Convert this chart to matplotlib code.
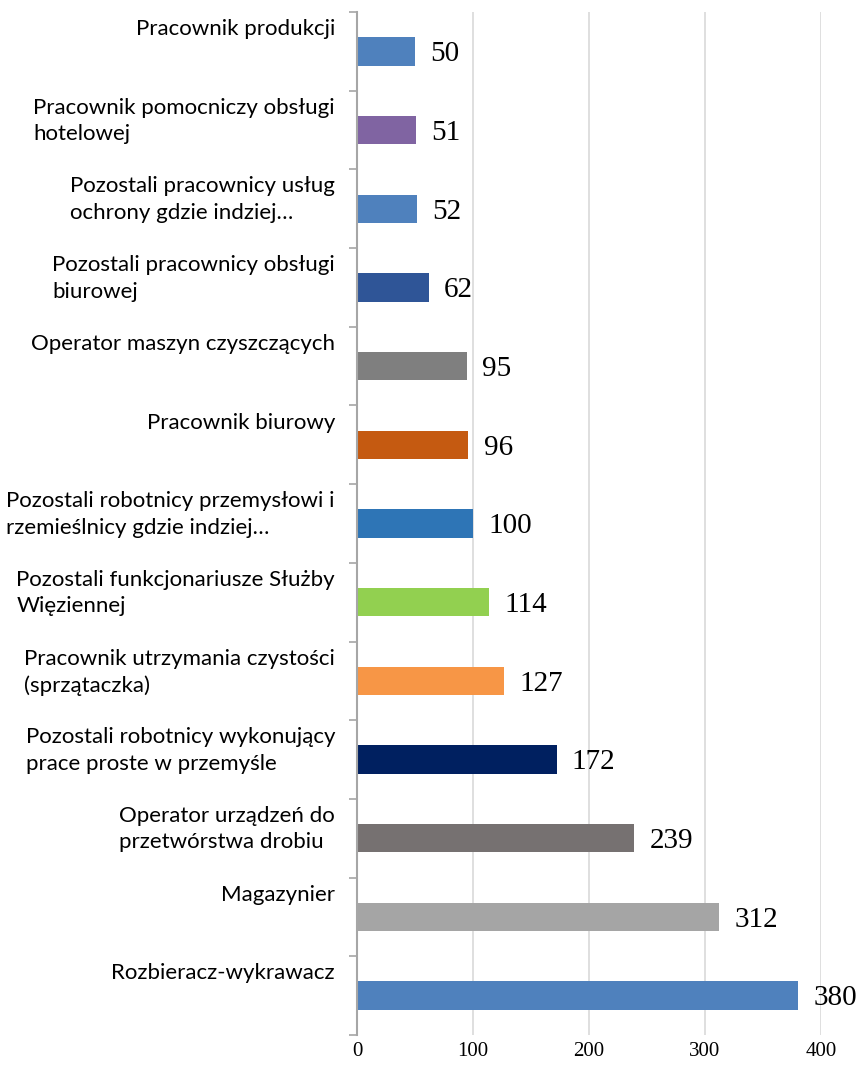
import numpy as np
import matplotlib.pyplot as plt

# --------------------------------------------------------------------------------
# DATA
# --------------------------------------------------------------------------------
categories = [
    "Pracownik produkcji",
    "Pracownik pomocniczy obsługi\nhotelowej",
    "Pozostali pracownicy usług\nochrony gdzie indziej…",
    "Pozostali pracownicy obsługi\nbiurowej",
    "Operator maszyn czyszczących",
    "Pracownik biurowy",
    "Pozostali robotnicy przemysłowi i\nrzemieślnicy gdzie indziej…",
    "Pozostali funkcjonariusze Służby\nWięziennej",
    "Pracownik utrzymania czystości\n(sprzątaczka)",
    "Pozostali robotnicy wykonujący\nprace proste w przemyśle",
    "Operator urządzeń do\nprzetwórstwa drobiu",
    "Magazynier",
    "Rozbieracz-wykrawacz",
]
values = [50, 51, 52, 62, 95, 96, 100, 114, 127, 172, 239, 312, 380]
colors = ["#4f81bd", "#8064a2", "#4f81bd", "#2f5597", "#7f7f7f", "#c55a11",
          "#2e75b6", "#92d050", "#f79646", "#002060", "#767171", "#a5a5a5",
          "#4f81bd"]
xticks = [0, 100, 200, 300, 400]

# --------------------------------------------------------------------------------
# PLOT
# --------------------------------------------------------------------------------
fig = plt.figure(figsize=(8.6, 10.68), dpi=100)
ax = fig.add_axes([357 / 860, 1 - 1035 / 1068, (821 - 357) / 860, (1035 - 12) / 1068])

y = np.arange(len(values))
ax.barh(y, values, height=0.36, color=colors, zorder=2)

ax.set_xlim(0, 400)
ax.set_ylim(len(values) - 0.5, -0.5)

# gridlines
ax.set_xticks(xticks)
ax.set_xticklabels([str(t) for t in xticks], fontfamily="Liberation Serif", fontsize=15)
ax.xaxis.grid(True, color="#d9d9d9", linewidth=1.2, zorder=0)
ax.tick_params(axis="x", length=0, pad=5)

# category boundary ticks
ax.set_yticks(np.arange(-0.5, len(values), 1.0))
ax.set_yticklabels([])
ax.tick_params(axis="y", length=6, width=1.2, color="#a6a6a6", direction="out")

for s in ["top", "right", "bottom"]:
    ax.spines[s].set_visible(False)
ax.spines["left"].set_color("#a6a6a6")
ax.spines["left"].set_linewidth(1.5)

# category labels (above each bar)
trans = ax.get_yaxis_transform()
for i, lab in enumerate(categories):
    ax.text(-22 / 464, i - 0.41, lab, transform=trans, ha="right", va="top",
            multialignment="left", fontfamily="Lato", fontsize=16,
            linespacing=1.4, color="#000000")

# value labels
for i, v in enumerate(values):
    ax.annotate(str(v), (v, i), xytext=(11, -2), textcoords="offset points",
                ha="left", va="center", fontfamily="Liberation Serif",
                fontsize=21, color="#000000")

fig.savefig("out.png", dpi=100)
